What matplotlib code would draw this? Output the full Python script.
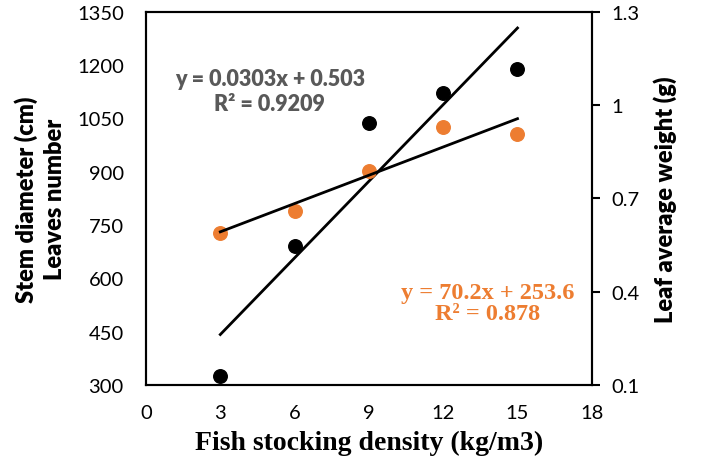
import numpy as np
import matplotlib.pyplot as plt

# Data
density = [3, 6, 9, 12, 15]                      # kg/m3
leaves_number = [326, 692, 1037, 1121, 1190]     # left axis (black)
leaf_weight = [0.588, 0.659, 0.788, 0.929, 0.908]  # right axis (orange)

x_ticks = [0, 3, 6, 9, 12, 15, 18]
left_ticks = [300, 450, 600, 750, 900, 1050, 1200, 1350]
right_ticks = [0.1, 0.4, 0.7, 1.0, 1.3]
right_tick_labels = ['0.1', '0.4', '0.7', '1', '1.3']

orange = '#ED7D31'
grey = '#595959'
sans = 'Lato'
serif = 'Liberation Serif'

fig, ax = plt.subplots(figsize=(7.02, 4.77), dpi=100)
fig.subplots_adjust(left=0.208, right=0.843, top=0.973, bottom=0.191)
ax2 = ax.twinx()

# Scatter points
ax.scatter(density, leaves_number, s=95, color='black', zorder=3)
ax2.scatter(density, leaf_weight, s=95, color=orange, zorder=3)

# Linear trendlines
xs = np.array([density[0], density[-1]])
k1, b1 = np.polyfit(density, leaves_number, 1)
ax.plot(xs, k1 * xs + b1, color='black', lw=2, zorder=4)
k2, b2 = np.polyfit(density, leaf_weight, 1)
ax2.plot(xs, k2 * xs + b2, color='black', lw=2, zorder=4)

# Axes limits and ticks
ax.set_xlim(0, 18)
ax.set_ylim(300, 1350)
ax2.set_ylim(0.1, 1.3)
ax.set_xticks(x_ticks)
ax.set_yticks(left_ticks)
ax2.set_yticks(right_ticks)
ax2.set_yticklabels(right_tick_labels)

ax.tick_params(axis='x', length=0, pad=14, labelsize=14.5)
ax.tick_params(axis='y', length=0, pad=16, labelsize=14.5)
ax2.tick_params(axis='y', length=6, width=1.5, pad=8, labelsize=14.5)
for lab in ax.get_xticklabels() + ax.get_yticklabels() + ax2.get_yticklabels():
    lab.set_fontfamily(sans)

for sp in list(ax.spines.values()) + list(ax2.spines.values()):
    sp.set_linewidth(1.5)

# Axis labels
ax.set_xlabel('Fish stocking density (kg/m3)', fontfamily=serif,
              fontweight='bold', fontsize=20, labelpad=6)
ax.set_ylabel('Stem diameter (cm)\nLeaves number', fontfamily=sans,
              fontweight='heavy', fontsize=17, labelpad=8, linespacing=1.35)
ax2.set_ylabel('Leaf average weight (g)', fontfamily=sans,
               fontweight='heavy', fontsize=17, labelpad=10)

# Trendline equations
ax.text(5.0, 1128, 'y = 0.0303x + 0.503\nR² = 0.9209', color=grey,
        fontfamily=sans, fontweight='heavy', fontsize=15.5, ha='center',
        va='center', linespacing=1.25)
ax.text(13.8, 530, 'y = 70.2x + 253.6\nR² = 0.878', color=orange,
        fontfamily=serif, fontweight='bold', fontsize=17.5, ha='center',
        va='center', linespacing=1.0)

fig.savefig('out.png', dpi=100)
